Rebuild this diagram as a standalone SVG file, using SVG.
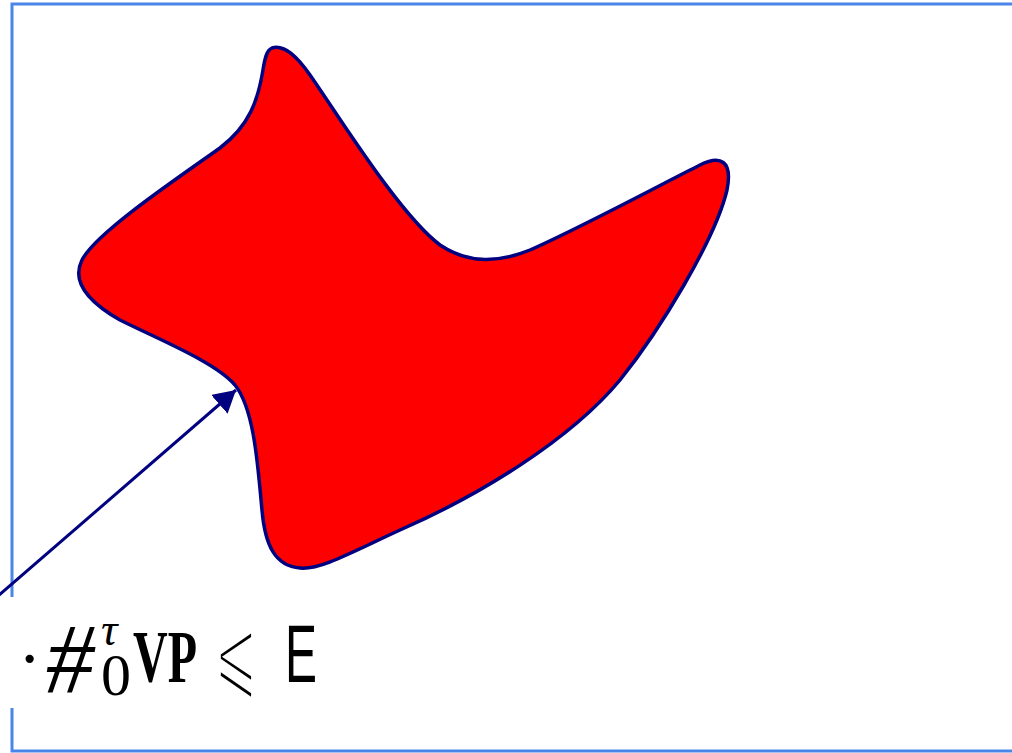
<svg xmlns="http://www.w3.org/2000/svg" width="1012" height="753" viewBox="0 0 1012 753">
<defs>
<style>
.frame{stroke:#4a86e8;stroke-width:3;fill:none}
.blob{fill:#ff0000;stroke:#000080;stroke-width:3.5}
.conn{stroke:#000080;stroke-width:3;fill:none}
.t{fill:#000}
</style>
<marker id="ah" markerUnits="userSpaceOnUse" markerWidth="24" markerHeight="26" refX="22" refY="12.5" orient="auto" viewBox="0 0 24 26">
<path d="M0,0 L22,12.5 L0,25 Z" fill="#000080"/>
</marker>
</defs>
<rect width="1012" height="753" fill="#fff"/>
<g id="frame">
<path class="frame" d="M1012,4 H12 V597"/>
<path class="frame" d="M12,708 V751 H1012"/>
</g>
<g id="shape">
<path class="blob" d="M272,48 C285,44 298,58 310,75 C340,118 400,215 440,245 C470,265 500,262 530,250 C580,228 660,185 700,165 C720,155 733,160 727,190 C715,240 660,330 620,380 C570,440 480,495 400,530 C350,553 320,570 300,568 C275,566 265,545 262,510 C258,470 255,410 235,385 C215,362 160,340 120,320 C85,300 72,280 82,260 C95,235 160,190 220,148 C250,125 258,100 263,70 C265,57 267,50 272,48 Z"/>
</g>
<g id="connectors">
<line class="conn" x1="-10" y1="603" x2="236" y2="390" marker-end="url(#ah)"/>
</g>
<g id="label">
<text class="t" x="18" y="682" font-family="Liberation Serif, serif" font-size="70">·</text>
<text class="t" x="46" y="692" font-family="Liberation Serif, serif" font-size="100" font-style="italic" textLength="48" lengthAdjust="spacingAndGlyphs">#</text>
<text class="t" x="101" y="645" font-family="Liberation Serif, serif" font-size="46" font-style="italic">τ</text>
<text class="t" x="101" y="695" font-family="Liberation Serif, serif" font-size="60">0</text>
<text class="t" x="133" y="682" font-family="Liberation Serif, serif" font-size="74" font-weight="bold" textLength="64" lengthAdjust="spacingAndGlyphs">VP</text>
<text class="t" x="214" y="688" font-family="DejaVu Sans, sans-serif" font-size="100" textLength="44" lengthAdjust="spacingAndGlyphs" stroke="#fff" stroke-width="5">⩽</text>
<text class="t" x="285" y="682" font-family="Liberation Sans, sans-serif" font-size="82" textLength="32" lengthAdjust="spacingAndGlyphs">E</text>
</g>
</svg>
